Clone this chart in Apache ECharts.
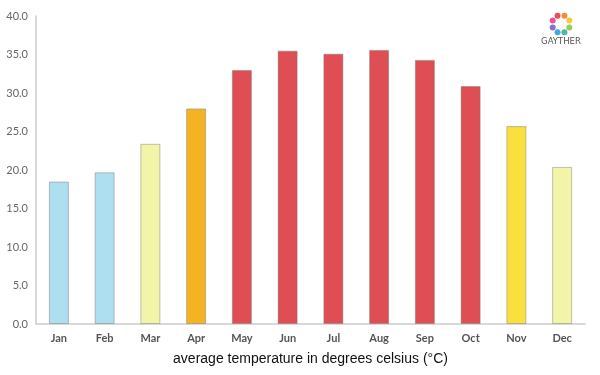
<!DOCTYPE html>
<html><head><meta charset="utf-8">
<script src="https://cdn.jsdelivr.net/npm/echarts@6/dist/echarts.min.js"></script>
<style>html,body{margin:0;padding:0;background:#fff}#c{width:600px;height:375px}</style>
</head><body><div id="c"></div>
<script>
var months = ['Jan','Feb','Mar','Apr','May','Jun','Jul','Aug','Sep','Oct','Nov','Dec'];
var temps = [18.5, 19.7, 23.4, 28.0, 33.0, 35.5, 35.1, 35.6, 34.3, 30.9, 25.7, 20.4];
var barColors = ['#aedff0','#aedff0','#f2f4a8','#f4b422','#e04e55','#e04e55','#e04e55','#e04e55','#e04e55','#e04e55','#f9e03c','#f2f4a8'];
var yTicks = [0, 5, 10, 15, 20, 25, 30, 35, 40];
var logoColors = ['#e94e5b','#f38b3c','#f6c844','#9ccc55','#4fb7a5','#4aa6d8','#8a6fc7','#e6569a'];

var chart = echarts.init(document.getElementById('c'));
var logo = [];
for (var i = 0; i < logoColors.length; i++) {
  var a = -Math.PI/2 + i * 2*Math.PI/logoColors.length - Math.PI/8;
  logo.push({type:'circle', shape:{cx:561 + 9*Math.cos(a), cy:24 + 9*Math.sin(a), r:3}, style:{fill:logoColors[i]}});
}
logo.push({type:'text', style:{text:'GAYTHER', x:561, y:42, align:'center', verticalAlign:'middle', font:'8.5px "DejaVu Sans"', fill:'#555'}});

chart.setOption({
  animation:false,
  grid:{left:36, right:15, top:16, bottom:51},
  xAxis:{type:'category', data:months,
    axisLine:{lineStyle:{color:'#ccc', width:1.5}}, axisTick:{show:false},
    axisLabel:{color:'#555', fontWeight:'bold', fontSize:11, fontFamily:'Lato', margin:9},
    name:'average temperature in degrees celsius (°C)', nameLocation:'middle', nameGap:28,
    nameTextStyle:{color:'#111', fontSize:14, fontFamily:'Liberation Sans'}},
  yAxis:{type:'value', min:yTicks[0], max:yTicks[yTicks.length-1], interval:5,
    axisLine:{show:true, lineStyle:{color:'#ccc', width:1.5}}, axisTick:{show:false}, splitLine:{show:false},
    axisLabel:{color:'#666', fontSize:11, fontFamily:'Lato', margin:8, formatter:function(v){return v.toFixed(1);}}},
  series:[{type:'bar', barWidth:20,
    data:temps.map(function(v,i){return {value:v, itemStyle:{color:barColors[i]}};}),
    itemStyle:{borderColor:'rgba(120,120,120,0.45)', borderWidth:1}}],
  graphic:logo
});
</script></body></html>
